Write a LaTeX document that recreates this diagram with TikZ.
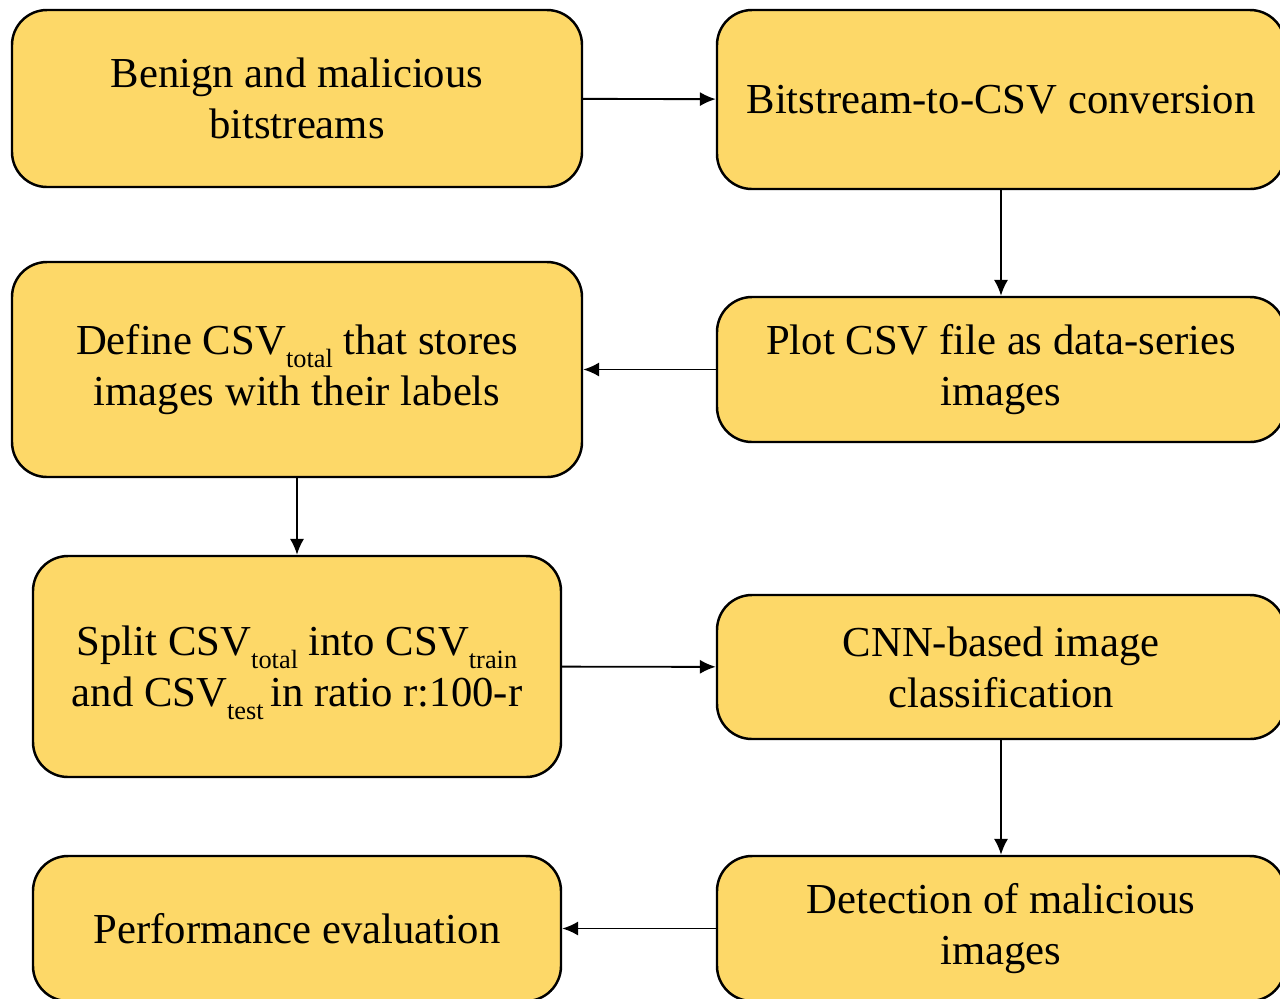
\documentclass[tikz,border=0pt]{standalone}
\usepackage{fontspec}
\setmainfont{Liberation Serif}
\usetikzlibrary{arrows.meta}
\definecolor{boxfill}{RGB}{253,216,104}
\newcommand{\csvsub}[1]{\raisebox{-0.65ex}[0pt][0pt]{\fontsize{15}{15}\selectfont #1}}

\begin{document}
\begin{tikzpicture}[
    stage/.style={draw=black, line width=1.4pt, fill=boxfill, rounded corners=0.7cm,
      align=center, inner sep=0pt, font=\fontsize{24.3}{29}\selectfont},
    flow/.style={line width=1.1pt, -{Latex[length=9pt,width=8pt]}}
  ]
      \useasboundingbox (0,0) rectangle (25.6,-19.96);
      \node[stage, minimum width=11.4cm, minimum height=3.54cm] (bits) at (5.94,-1.97)
        {Benign and malicious\\bitstreams};
      \node[stage, minimum width=11.36cm, minimum height=3.58cm] (conv) at (20.02,-1.99)
        {Bitstream-to-CSV conversion};
      \node[stage, minimum width=11.36cm, minimum height=2.9cm] (plot) at (20.02,-7.39)
        {Plot CSV file as data-series\\images};
      \node[stage, minimum width=11.4cm, minimum height=4.3cm] (define) at (5.94,-7.39)
        {Define CSV\csvsub{total} that stores\\images with their labels};
      \node[stage, minimum width=10.56cm, minimum height=4.42cm] (split) at (5.94,-13.33)
        {Split CSV\csvsub{total} into CSV\csvsub{train}\\and CSV\csvsub{test}\,in ratio r:100-r};
      \node[stage, minimum width=11.36cm, minimum height=2.88cm] (cnn) at (20.02,-13.34)
        {CNN-based image\\classification};
      \node[stage, minimum width=11.36cm, minimum height=2.9cm] (detect) at (20.02,-18.57)
        {Detection of malicious\\images};
      \node[stage, minimum width=10.56cm, minimum height=2.9cm] (perf) at (5.94,-18.57)
        {Performance evaluation};
      \path (bits) edge [flow] (conv);
      \path (conv) edge [flow] (plot);
      \path (plot) edge [flow] (define);
      \path (define) edge [flow] (split);
      \path (split) edge [flow] (cnn);
      \path (cnn) edge [flow] (detect);
      \path (detect) edge [flow] (perf);
    \end{tikzpicture}
\end{document}
